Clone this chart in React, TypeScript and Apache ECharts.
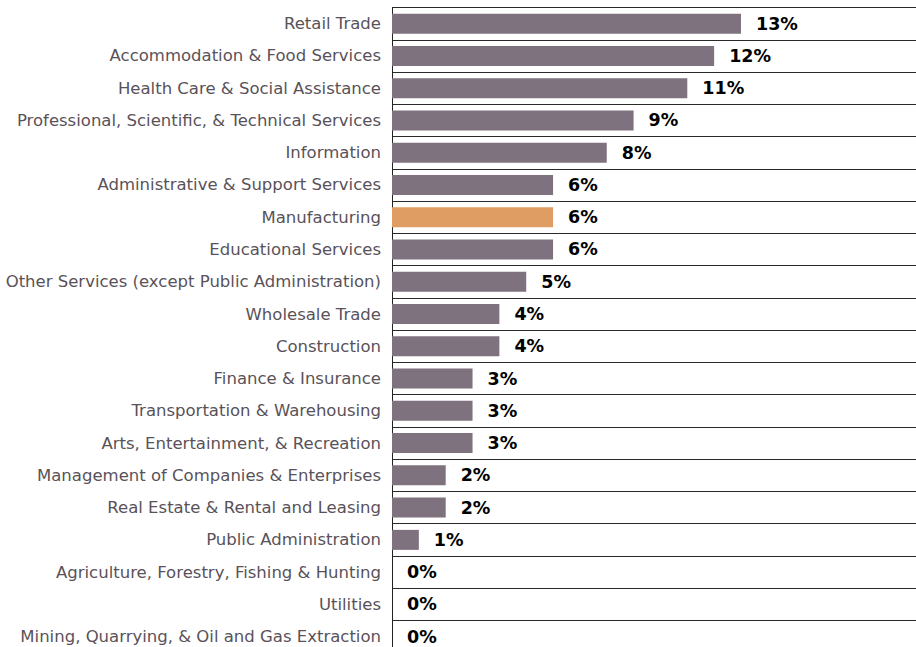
import React, { useEffect, useRef } from "react";
import * as echarts from "echarts";

const categories = [
  "Retail Trade",
  "Accommodation & Food Services",
  "Health Care & Social Assistance",
  "Professional, Scientific, & Technical Services",
  "Information",
  "Administrative & Support Services",
  "Manufacturing",
  "Educational Services",
  "Other Services (except Public Administration)",
  "Wholesale Trade",
  "Construction",
  "Finance & Insurance",
  "Transportation & Warehousing",
  "Arts, Entertainment, & Recreation",
  "Management of Companies & Enterprises",
  "Real Estate & Rental and Leasing",
  "Public Administration",
  "Agriculture, Forestry, Fishing & Hunting",
  "Utilities",
  "Mining, Quarrying, & Oil and Gas Extraction",
];

const values = [13, 12, 11, 9, 8, 6, 6, 6, 5, 4, 4, 3, 3, 3, 2, 2, 1, 0, 0, 0];

const highlighted = ["Manufacturing"];

const BAR_COLOR = "#7e727e";
const HIGHLIGHT_COLOR = "#df9c63";

export default function App() {
  const ref = useRef<HTMLDivElement>(null);

  useEffect(() => {
    if (!ref.current) return;
    const chart = echarts.init(ref.current, null, { renderer: "svg" });
    chart.setOption({
      animation: false,
      grid: {
        left: 392,
        top: 7.5,
        width: 524,
        height: 645.3,
        containLabel: false,
        outerBoundsMode: "none",
      },
      xAxis: {
        type: "value",
        min: 0,
        max: 19.52,
        show: false,
      },
      yAxis: {
        type: "category",
        inverse: true,
        data: categories,
        axisLine: { show: true, lineStyle: { color: "#222", width: 1 } },
        axisTick: { show: false },
        axisLabel: {
          color: "#595259",
          fontFamily: "DejaVu Sans",
          fontSize: 16.5,
          margin: 11,
        },
        splitLine: { show: true, lineStyle: { color: "#2a2a2a", width: 1 } },
      },
      series: [
        {
          type: "bar",
          barCategoryGap: "38%",
          data: values.map((v, i) => ({
            value: v,
            itemStyle: {
              color: highlighted.includes(categories[i]) ? HIGHLIGHT_COLOR : BAR_COLOR,
            },
          })),
          label: {
            show: true,
            position: "right",
            distance: 15,
            formatter: (p: any) => `${p.value}%`,
            color: "#000",
            fontWeight: "bold",
            fontFamily: "DejaVu Sans",
            fontSize: 17.5,
          },
        },
      ],
    });
    return () => chart.dispose();
  }, []);

  return <div ref={ref} style={{ width: 916, height: 647, position: "absolute", left: 0, top: 0 }} />;
}
